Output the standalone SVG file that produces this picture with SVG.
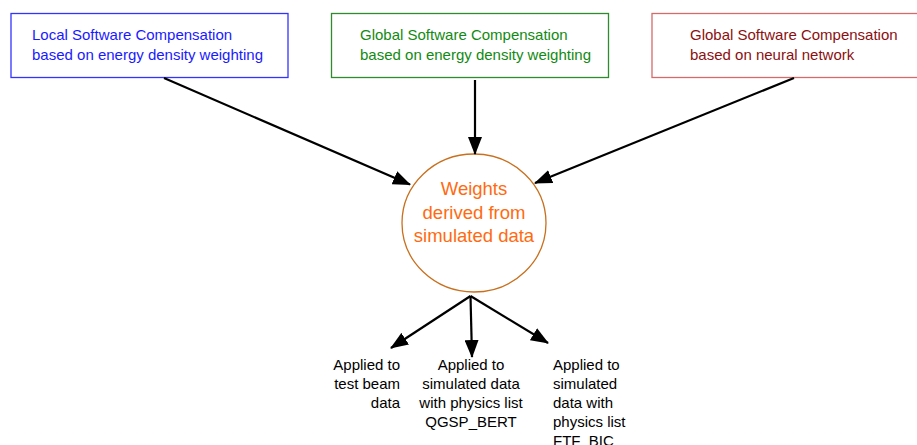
<svg xmlns="http://www.w3.org/2000/svg" width="917" height="445" viewBox="0 0 917 445">
<style>
  text { font-family: "Liberation Sans", Arial, sans-serif; }
  .box { fill: #ffffff; stroke-width: 1.3; }
  .t15 { font-size: 15px; }
  .conn { stroke: #000000; stroke-width: 2.2; fill: none; marker-end: url(#arr); }
</style>
<defs>
  <marker id="arr" viewBox="0 0 18 14" refX="17" refY="7" markerWidth="18" markerHeight="14" markerUnits="userSpaceOnUse" orient="auto">
    <path d="M0,0 L18,7 L0,14 z" fill="#000000"/>
  </marker>
</defs>
<rect width="917" height="445" fill="#ffffff"/>

<g id="node-local">
  <rect class="box" x="11" y="13.5" width="277" height="64" stroke="#3333ff"/>
  <text class="t15" fill="#1a1aff" x="32" y="40">Local Software Compensation</text>
  <text class="t15" fill="#1a1aff" x="32" y="60">based on energy density weighting</text>
</g>

<g id="node-global-edw">
  <rect class="box" x="331.5" y="13.5" width="277" height="64" stroke="#2e8b2e"/>
  <text class="t15" fill="#128a12" x="360" y="40">Global Software Compensation</text>
  <text class="t15" fill="#128a12" x="360" y="60">based on energy density weighting</text>
</g>

<g id="node-global-nn">
  <rect class="box" x="652" y="13.5" width="275" height="64" stroke="#d46a6a"/>
  <text class="t15" fill="#8b1010" x="690" y="40">Global Software Compensation</text>
  <text class="t15" fill="#8b1010" x="690" y="60">based on neural network</text>
</g>

<g id="node-weights">
  <ellipse cx="474" cy="223" rx="72" ry="69" fill="#ffffff" stroke="#c8701e" stroke-width="1.3"/>
  <text fill="#ff6a10" font-size="18.5" text-anchor="middle" x="474" y="195">Weights</text>
  <text fill="#ff6a10" font-size="18.5" text-anchor="middle" x="474" y="218.5">derived from</text>
  <text fill="#ff6a10" font-size="18.5" text-anchor="middle" x="474" y="242">simulated data</text>
</g>

<g id="node-testbeam">
  <text class="t15" fill="#000000" text-anchor="end" x="400" y="370">Applied to</text>
  <text class="t15" fill="#000000" text-anchor="end" x="400" y="389">test beam</text>
  <text class="t15" fill="#000000" text-anchor="end" x="400" y="408">data</text>
</g>

<g id="node-qgsp">
  <text class="t15" fill="#000000" text-anchor="middle" x="471" y="370">Applied to</text>
  <text class="t15" fill="#000000" text-anchor="middle" x="471" y="389">simulated data</text>
  <text class="t15" fill="#000000" text-anchor="middle" x="471" y="408">with physics list</text>
  <text class="t15" fill="#000000" text-anchor="middle" x="471" y="427">QGSP_BERT</text>
</g>

<g id="node-ftf">
  <text class="t15" fill="#000000" x="553" y="370">Applied to</text>
  <text class="t15" fill="#000000" x="553" y="389">simulated</text>
  <text class="t15" fill="#000000" x="553" y="408">data with</text>
  <text class="t15" fill="#000000" x="553" y="427">physics list</text>
  <text class="t15" fill="#000000" x="553" y="446">FTF_BIC</text>
</g>

<g id="connectors">
  <line class="conn" x1="164" y1="78" x2="410" y2="184.5"/>
  <line class="conn" x1="475" y1="80" x2="475" y2="154"/>
  <line class="conn" x1="794" y1="78" x2="535" y2="183"/>
  <line class="conn" x1="470.5" y1="296" x2="391" y2="348"/>
  <line class="conn" x1="470.5" y1="296" x2="472" y2="357"/>
  <line class="conn" x1="470.5" y1="296" x2="548" y2="343"/>
</g>
</svg>
